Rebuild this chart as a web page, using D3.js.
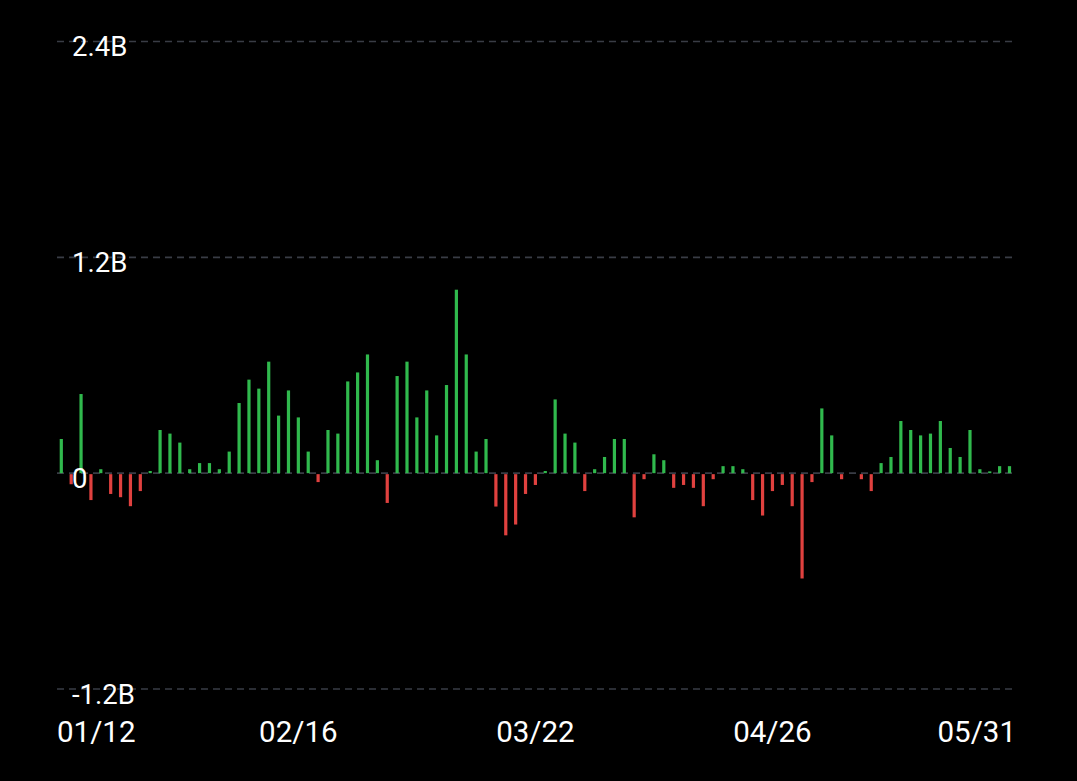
<!DOCTYPE html>
<html>
<head>
<meta charset="utf-8">
<script src="https://cdn.jsdelivr.net/npm/d3@7/dist/d3.min.js"></script>
<style>
  html, body { margin: 0; padding: 0; background: #000; }
  svg { display: block; }
  text { font-family: Roboto, "Noto Sans", sans-serif; fill: #fff; }
</style>
</head>
<body>
<svg id="chart" width="1077" height="781"></svg>
<script>
const dates = [
  "01/12","01/16","01/17","01/18","01/19","01/22","01/23","01/24","01/25","01/26","01/29","01/30","01/31",
  "02/01","02/02","02/05","02/06","02/07","02/08","02/09","02/12","02/13","02/14","02/15","02/16","02/20","02/21","02/22","02/23","02/26","02/27","02/28","02/29",
  "03/01","03/04","03/05","03/06","03/07","03/08","03/11","03/12","03/13","03/14","03/15","03/18","03/19","03/20","03/21","03/22","03/25","03/26","03/27","03/28",
  "04/01","04/02","04/03","04/04","04/05","04/08","04/09","04/10","04/11","04/12","04/15","04/16","04/17","04/18","04/19","04/22","04/23","04/24","04/25","04/26","04/29","04/30",
  "05/01","05/02","05/03","05/06","05/07","05/08","05/09","05/10","05/13","05/14","05/15","05/16","05/17","05/20","05/21","05/22","05/23","05/24","05/28","05/29","05/30","05/31"
];

// net values in billions
const values = [
  0.19, -0.056, 0.44, -0.144, 0.022, -0.11, -0.128, -0.178, -0.094, 0.012,
  0.24, 0.22, 0.17, 0.022, 0.056, 0.056, 0.022, 0.12, 0.39, 0.52,
  0.47, 0.62, 0.32, 0.46, 0.31, 0.12, -0.044, 0.24, 0.22, 0.51,
  0.56, 0.66, 0.072, -0.16, 0.54, 0.62, 0.31, 0.46, 0.21, 0.49,
  1.02, 0.66, 0.12, 0.19, -0.18, -0.34, -0.28, -0.11, -0.06, 0.012,
  0.41, 0.22, 0.17, -0.094, 0.022, 0.09, 0.19, 0.19, -0.24, -0.028,
  0.105, 0.072, -0.076, -0.06, -0.076, -0.178, -0.028, 0.039, 0.039, 0.022,
  -0.144, -0.23, -0.094, -0.06, -0.178, -0.58, -0.044, 0.36, 0.21, -0.028,
  0, -0.028, -0.094, 0.056, 0.09, 0.29, 0.24, 0.21, 0.22, 0.29,
  0.14, 0.09, 0.24, 0.022, 0.01, 0.039, 0.039
];

const yTicks = [-1.2e9, 0, 1.2e9, 2.4e9];
const yTickLabels = ["-1.2B", "0", "1.2B", "2.4B"];
const xTickLabels = ["01/12", "02/16", "03/22", "04/26", "05/31"];

const data = dates.map((d, i) => ({ date: d, value: values[i] * 1e9 }));

const svg = d3.select("#chart");
const W = 1077, H = 781;
svg.append("rect").attr("width", W).attr("height", H).attr("fill", "#000");

const x = d3.scalePoint().domain(dates).range([61.3, 1009.5]);
const y = d3.scaleLinear().domain([-1.2e9, 2.4e9]).range([689, 41.5]);

const gridLeft = 57, gridRight = 1017;

// grid lines (dashed)
svg.append("g").selectAll("line").data(yTicks).join("line")
  .attr("x1", gridLeft).attr("x2", gridRight)
  .attr("y1", d => y(d)).attr("y2", d => y(d))
  .attr("stroke", "#393c45").attr("stroke-width", 1.6)
  .attr("stroke-dasharray", "7,5");

// bars
const y0 = y(0);
svg.append("g").selectAll("rect").data(data).join("rect")
  .attr("x", d => x(d.date) - 1.6)
  .attr("width", 3.2)
  .attr("y", d => d.value >= 0 ? y(d.value) : y0 + 1)
  .attr("height", d => Math.max(d.value === 0 ? 0 : 1.5, Math.abs(y(d.value) - y0)))
  .attr("fill", d => d.value >= 0 ? "#30b94d" : "#e0413f");

// y labels
svg.append("g").selectAll("text").data(yTicks).join("text")
  .attr("x", 72)
  .attr("y", d => y(d) + 14.5)
  .attr("font-size", 27.5)
  .attr("text-anchor", "start")
  .text((d, i) => yTickLabels[i]);

// x labels
svg.append("g").selectAll("text").data(xTickLabels).join("text")
  .attr("x", (d, i) => i === 0 ? gridLeft : (i === xTickLabels.length - 1 ? gridRight - 1 : x(d)))
  .attr("y", 742)
  .attr("font-size", 29.5)
  .attr("text-anchor", (d, i) => i === 0 ? "start" : (i === xTickLabels.length - 1 ? "end" : "middle"))
  .text(d => d);
</script>
</body>
</html>
